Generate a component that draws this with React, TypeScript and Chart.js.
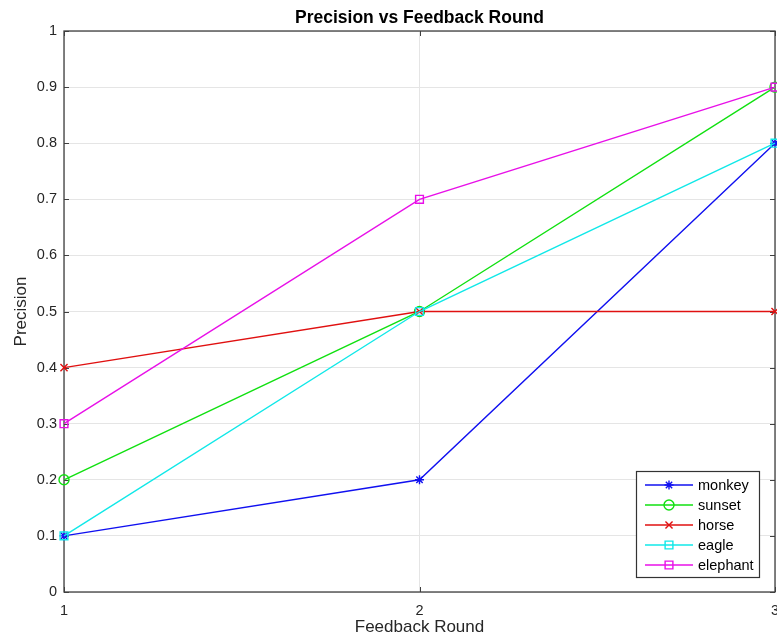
import React, { useEffect, useRef } from 'react';
import { Chart, registerables } from 'chart.js';
import { drawPoint } from 'chart.js/helpers';

Chart.register(...registerables);

const rounds = [1, 2, 3];
const seriesNames = ['monkey', 'sunset', 'horse', 'eagle', 'elephant'];
const monkey = [0.1, 0.2, 0.8];
const sunset = [0.2, 0.5, 0.9];
const horse = [0.4, 0.5, 0.5];
const eagle = [0.1, 0.5, 0.8];
const elephant = [0.3, 0.7, 0.9];
const seriesColors = ['#1010f0', '#10e010', '#e01010', '#10e8e8', '#e810e8'];
const seriesMarkers = ['star', 'circle', 'crossRot', 'rect', 'rect'];
const seriesRadius = [4.5, 5, 5, 5.5, 5.5];
const yTickValues = [0, 0.1, 0.2, 0.3, 0.4, 0.5, 0.6, 0.7, 0.8, 0.9, 1];
const titleText = 'Precision vs Feedback Round';
const xLabel = 'Feedback Round';
const yLabel = 'Precision';

const FONT = "'Liberation Sans', Arial, Helvetica, sans-serif";

const framePlugin = {
  id: 'frame',
  beforeDatasetsDraw(chart: any) {
    const { ctx, chartArea: a, scales } = chart;
    ctx.save();
    ctx.strokeStyle = '#404040';
    ctx.lineWidth = 1;
    const tl = 5;
    scales.y.ticks.forEach((t: any) => {
      const y = Math.round(scales.y.getPixelForValue(t.value)) + 0.5;
      ctx.beginPath();
      ctx.moveTo(a.left, y);
      ctx.lineTo(a.left + tl, y);
      ctx.moveTo(a.right, y);
      ctx.lineTo(a.right - tl, y);
      ctx.stroke();
    });
    scales.x.ticks.forEach((t: any) => {
      const x = Math.round(scales.x.getPixelForValue(t.value)) + 0.5;
      ctx.beginPath();
      ctx.moveTo(x, a.bottom);
      ctx.lineTo(x, a.bottom - tl);
      ctx.moveTo(x, a.top);
      ctx.lineTo(x, a.top + tl);
      ctx.stroke();
    });
    ctx.lineWidth = 1.3;
    ctx.strokeRect(a.left, a.top, a.right - a.left, a.bottom - a.top);
    ctx.restore();
  },
  afterDraw(chart: any) {
    const { ctx, chartArea: a } = chart;
    ctx.save();
    ctx.fillStyle = '#000';
    ctx.font = `bold 17.5px ${FONT}`;
    ctx.textAlign = 'center';
    ctx.textBaseline = 'middle';
    ctx.fillText(titleText, (a.left + a.right) / 2, 18.5);

    // legend
    const w = 123;
    const h = 106;
    const x0 = a.right - 16 - w;
    const y0 = a.bottom - 15 - h;
    ctx.fillStyle = '#ffffff';
    ctx.fillRect(x0, y0, w, h);
    ctx.strokeStyle = '#333333';
    ctx.lineWidth = 1.2;
    ctx.strokeRect(x0 + 0.5, y0 + 0.5, w, h);
    chart.data.datasets.forEach((ds: any, i: number) => {
      const cy = y0 + 14 + i * 20;
      ctx.strokeStyle = ds.borderColor;
      ctx.lineWidth = 1.4;
      ctx.beginPath();
      ctx.moveTo(x0 + 9, cy);
      ctx.lineTo(x0 + 57, cy);
      ctx.stroke();
      ctx.fillStyle = 'rgba(0,0,0,0)';
      drawPoint(ctx, { pointStyle: ds.pointStyle, radius: ds.pointRadius, borderWidth: 1.4, rotation: 0 } as any, x0 + 33, cy);
      ctx.fillStyle = '#000';
      ctx.font = `14.5px ${FONT}`;
      ctx.textAlign = 'left';
      ctx.textBaseline = 'middle';
      ctx.fillText(ds.label, x0 + 62, cy + 0.5);
    });
    ctx.restore();
  },
};

export default function App() {
  const ref = useRef<HTMLCanvasElement | null>(null);
  useEffect(() => {
    if (!ref.current) return;
    const series = [monkey, sunset, horse, eagle, elephant];
    const chart = new Chart(ref.current, {
      type: 'line',
      data: {
        datasets: series.map((vals, i) => ({
          label: seriesNames[i],
          data: rounds.map((r, j) => ({ x: r, y: vals[j] })),
          borderColor: seriesColors[i],
          backgroundColor: 'rgba(0,0,0,0)',
          pointBackgroundColor: 'rgba(0,0,0,0)',
          pointBorderColor: seriesColors[i],
          pointStyle: seriesMarkers[i] as any,
          pointRadius: seriesRadius[i],
          pointBorderWidth: 1.4,
          borderWidth: 1.4,
          tension: 0,
          fill: false,
          clip: false as any,
          order: series.length - i,
        })),
      },
      options: {
        animation: false,
        responsive: false,
        devicePixelRatio: 1,
        layout: { padding: { top: 31, right: 25, left: 0, bottom: 0 } },
        plugins: {
          legend: { display: false },
          title: { display: false },
          tooltip: { enabled: false },
        },
        scales: {
          x: {
            type: 'linear',
            min: 1,
            max: 3,
            afterBuildTicks: (s: any) => {
              s.ticks = rounds.map((v) => ({ value: v }));
            },
            afterFit: (s: any) => {
              s.height = 52;
            },
            grid: { color: '#e5e5e5', lineWidth: 1, drawTicks: false },
            border: { display: false },
            ticks: {
              color: '#262626',
              font: { family: FONT, size: 14.5 },
              padding: 10,
              maxRotation: 0,
              callback: (v: any) => String(v),
            },
            title: {
              display: true,
              text: xLabel,
              color: '#262626',
              font: { family: FONT, size: 17 },
              padding: { top: 0, bottom: 6 },
            },
          },
          y: {
            type: 'linear',
            min: 0,
            max: 1,
            afterBuildTicks: (s: any) => {
              s.ticks = yTickValues.map((v) => ({ value: v }));
            },
            afterFit: (s: any) => {
              s.width = 64;
            },
            grid: { color: '#e5e5e5', lineWidth: 1, drawTicks: false },
            border: { display: false },
            ticks: {
              color: '#262626',
              font: { family: FONT, size: 14.5 },
              padding: 7,
              callback: (v: any) => String(Math.round(Number(v) * 10) / 10),
            },
            title: {
              display: true,
              text: yLabel,
              color: '#262626',
              font: { family: FONT, size: 17 },
              padding: { top: 11, bottom: 0 },
            },
          },
        },
      },
      plugins: [framePlugin],
    });
    return () => chart.destroy();
  }, []);
  return (
    <div style={{ position: 'fixed', left: 0, top: 0, width: 777, height: 644, overflow: 'hidden', background: '#fff' }}>
      <canvas ref={ref} width={800} height={644} style={{ width: 800, height: 644, display: 'block' }} />
    </div>
  );
}
